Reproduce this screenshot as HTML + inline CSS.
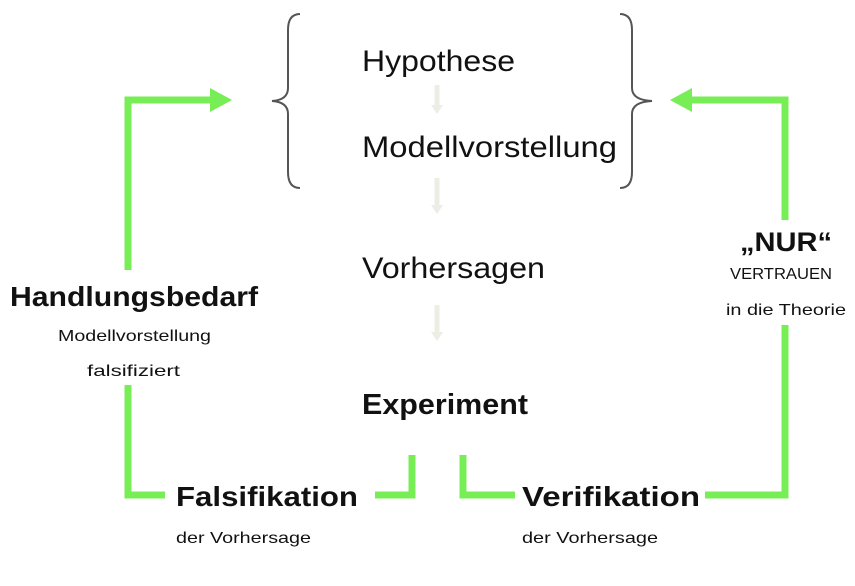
<!DOCTYPE html>
<html><head><meta charset="utf-8"><style>
body{margin:0;background:#fff}
svg text{font-family:"Liberation Sans",sans-serif;fill:#111}
</style></head><body>
<svg width="855" height="581" viewBox="0 0 855 581" xmlns="http://www.w3.org/2000/svg">
<g fill="none" stroke="#555" stroke-width="2">
<path d="M300,14 Q288,14 288,30 L288,88 Q288,100 272,101 Q288,102 288,114 L288,172 Q288,188 300,188"/>
<path d="M620,14 Q632,14 632,30 L632,88 Q632,100 652,101 Q632,102 632,114 L632,172 Q632,188 620,188"/>
</g>
<g stroke="#eceee6" stroke-width="5" fill="none">
<path d="M437,85 V108"/><path d="M437,178 V208"/><path d="M437,305 V335"/>
</g>
<g fill="#eceee6"><path d="M431,105 L443,105 L437,114Z"/><path d="M431,205 L443,205 L437,214Z"/><path d="M431,332 L443,332 L437,341Z"/></g>
<g stroke="#77ee55" stroke-width="7" fill="none" stroke-linejoin="miter">
<path d="M128,270 V100 H212"/>
<path d="M128,385 V495 H165"/>
<path d="M785,220 V100 H690"/>
<path d="M785,325 V495 H705"/>
<path d="M375,495 H412 V455"/>
<path d="M463,455 V495 H515"/>
</g>
<g fill="#77ee55"><path d="M210,88 L232,100 L210,112Z"/><path d="M692,88 L670,100 L692,112Z"/></g>
<g lengthAdjust="spacingAndGlyphs">
<text x="362" y="71" font-size="30" textLength="153" lengthAdjust="spacingAndGlyphs">Hypothese</text>
<text x="362" y="157" font-size="30" textLength="255" lengthAdjust="spacingAndGlyphs">Modellvorstellung</text>
<text x="362" y="278" font-size="30" textLength="183" lengthAdjust="spacingAndGlyphs">Vorhersagen</text>
<text x="362" y="414" font-size="29" font-weight="bold" textLength="166" lengthAdjust="spacingAndGlyphs">Experiment</text>
<text x="10" y="306" font-size="28" font-weight="bold" textLength="248" lengthAdjust="spacingAndGlyphs">Handlungsbedarf</text>
<text x="58" y="341" font-size="16" textLength="153" lengthAdjust="spacingAndGlyphs">Modellvorstellung</text>
<text x="87" y="376" font-size="16" textLength="93" lengthAdjust="spacingAndGlyphs">falsifiziert</text>
<text x="740" y="251" font-size="27" font-weight="bold" textLength="92" lengthAdjust="spacingAndGlyphs">„NUR“</text>
<text x="730" y="279" font-size="16" textLength="102" lengthAdjust="spacingAndGlyphs">VERTRAUEN</text>
<text x="726" y="315" font-size="16" textLength="120" lengthAdjust="spacingAndGlyphs">in die Theorie</text>
<text x="176" y="506" font-size="28" font-weight="bold" textLength="182" lengthAdjust="spacingAndGlyphs">Falsifikation</text>
<text x="176" y="543" font-size="16" textLength="135" lengthAdjust="spacingAndGlyphs">der Vorhersage</text>
<text x="522" y="506" font-size="28" font-weight="bold" textLength="178" lengthAdjust="spacingAndGlyphs">Verifikation</text>
<text x="522" y="543" font-size="16" textLength="136" lengthAdjust="spacingAndGlyphs">der Vorhersage</text>
</g>
</svg>
</body></html>
